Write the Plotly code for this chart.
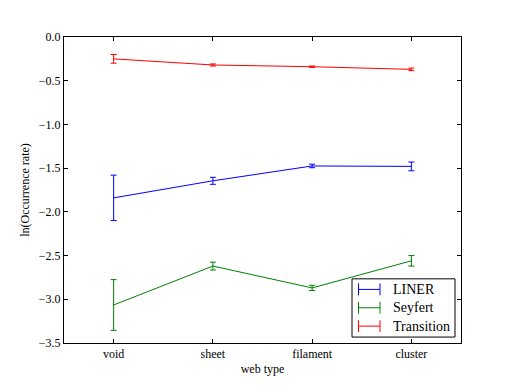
import plotly.graph_objects as go

# web types along x
web_types = ['void', 'sheet', 'filament', 'cluster']

# ln(occurrence rate) and errors per class
liner = [-1.84, -1.645, -1.475, -1.48]
liner_err = [0.26, 0.04, 0.02, 0.05]

seyfert = [-3.065, -2.62, -2.87, -2.56]
seyfert_err = [0.29, 0.045, 0.03, 0.06]

transition = [-0.25, -0.32, -0.34, -0.37]
transition_err = [0.05, 0.012, 0.008, 0.015]

y_ticks = [0.0, -0.5, -1.0, -1.5, -2.0, -2.5, -3.0, -3.5]

font = "Liberation Serif"

series = [('LINER', liner, liner_err, 'rgb(0,0,255)'),
          ('Seyfert', seyfert, seyfert_err, 'rgb(0,128,0)'),
          ('Transition', transition, transition_err, 'rgb(255,0,0)')]

fig = go.Figure()
for name, vals, errs, col in series:
    fig.add_trace(go.Scatter(x=list(range(len(web_types))), y=vals, name=name,
                             mode='lines', showlegend=False,
                             line=dict(color=col, width=1),
                             error_y=dict(type='data', array=errs, visible=True,
                                          color=col, thickness=1, width=3)))

# page body has an 8px margin, so the figure is a bit smaller and shifted
W, H = 504, 378
L, R, T, B = 56, 51, 29, 39
pw, ph = W - L - R, H - T - B

def px(x):
    return (x - L) / pw

def py(y):
    return (H - B - y) / ph

# matplotlib-like legend box with errorbar glyphs
shapes = [dict(type='rect', xref='paper', yref='paper', x0=px(344), x1=px(447),
               y0=py(333), y1=py(274), line=dict(color='black', width=1),
               fillcolor='white', layer='above')]
annotations = []
for i, (name, vals, errs, col) in enumerate(series):
    yc = 284.7 + i * 18.6
    g0, g1 = 350.5, 372
    for x0, y0, x1, y1 in [(g0, yc, g1, yc), (g0, yc - 6, g0, yc + 6), (g1, yc - 6, g1, yc + 6)]:
        shapes.append(dict(type='line', xref='paper', yref='paper', x0=px(x0), x1=px(x1),
                           y0=py(y0), y1=py(y1), line=dict(color=col, width=1), layer='above'))
    annotations.append(dict(xref='paper', yref='paper', x=px(383), y=py(yc), text=name,
                            showarrow=False, xanchor='left', yanchor='middle',
                            font=dict(family=font, size=14, color='black')))

axis_common = dict(showline=True, linecolor='black', linewidth=1, mirror='ticks',
                   ticks='inside', ticklen=4, tickcolor='black', showgrid=False,
                   zeroline=False, tickfont=dict(family=font, size=12, color='black'))

fig.update_layout(
    width=W, height=H,
    margin=dict(l=L, r=R, t=T, b=B),
    paper_bgcolor='white', plot_bgcolor='white',
    font=dict(family=font, size=12, color='black'),
    xaxis=dict(range=[-0.5, 3.5], tickvals=list(range(len(web_types))),
               ticktext=web_types,
               title=dict(text='web type', standoff=4, font=dict(family=font, size=12)),
               **axis_common),
    yaxis=dict(range=[-3.5, 0.0], tickvals=y_ticks, tickformat='.1f',
               title=dict(text='ln(Occurrence rate)', standoff=6, font=dict(family=font, size=12)),
               **axis_common),
    shapes=shapes,
    annotations=annotations,
)

fig.write_html("out.html")
